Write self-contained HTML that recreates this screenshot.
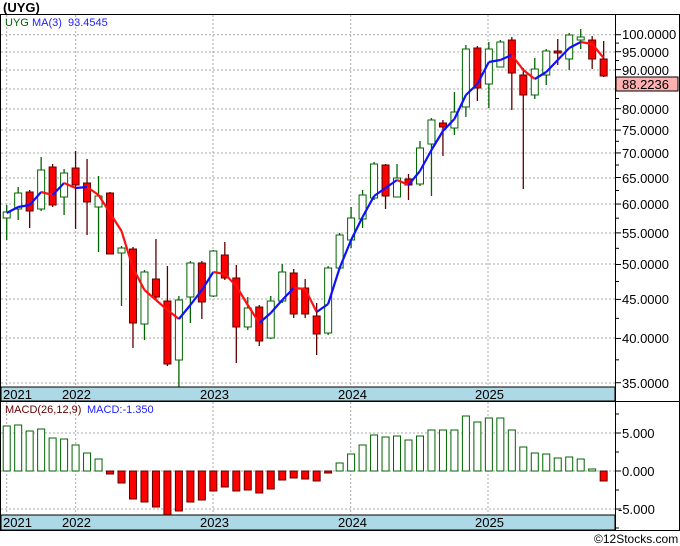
<!DOCTYPE html>
<html><head><meta charset="utf-8"><style>
html,body{margin:0;padding:0;background:#fff;}
svg{display:block;font-family:"Liberation Sans",sans-serif;}
</style></head><body>
<svg id="s" width="680" height="546" viewBox="0 0 680 546" xmlns="http://www.w3.org/2000/svg">
<rect width="680" height="546" fill="#fff"/>
<g id="grid" stroke="#aaa" stroke-dasharray="2,2" stroke-width="1"></g>
<g id="cand"></g>
<g id="ma" fill="none" stroke-width="2.2"></g>
<g id="macd"></g>
<!-- date bands -->
<rect x="1" y="387" width="614" height="14" fill="#add8e6" stroke="#000"/>
<rect x="1" y="515" width="614" height="15" fill="#add8e6" stroke="#000"/>
<g font-size="13" fill="#000">
<text x="3" y="399">2021</text><text x="62" y="399">2022</text><text x="200" y="399">2023</text><text x="338" y="399">2024</text><text x="475" y="399">2025</text>
<text x="3" y="527">2021</text><text x="62" y="527">2022</text><text x="200" y="527">2023</text><text x="338" y="527">2024</text><text x="475" y="527">2025</text>
</g>
<!-- frame -->
<line x1="0" y1="14.5" x2="680" y2="14.5" stroke="#000"/>
<line x1="0" y1="401.5" x2="680" y2="401.5" stroke="#000"/>
<line x1="0" y1="530.5" x2="680" y2="530.5" stroke="#000"/>
<line x1="615.5" y1="14" x2="615.5" y2="531" stroke="#000"/>
<line x1="679.5" y1="14" x2="679.5" y2="531" stroke="#000"/>
<line x1="0.5" y1="14" x2="0.5" y2="531" stroke="#000"/>
<g id="ticks" stroke="#000"></g>
<g font-size="13" fill="#000">
<text x="622" y="39">100.0000</text>
<text x="622" y="57">95.0000</text>
<text x="622" y="75">90.0000</text>
<text x="622" y="114">80.0000</text>
<text x="622" y="135">75.0000</text>
<text x="622" y="158">70.0000</text>
<text x="622" y="183">65.0000</text>
<text x="622" y="209">60.0000</text>
<text x="622" y="238">55.0000</text>
<text x="622" y="269">50.0000</text>
<text x="622" y="304">45.0000</text>
<text x="622" y="343">40.0000</text>
<text x="622" y="388">35.0000</text>
<text x="622" y="438">5.000</text>
<text x="622" y="476">0.000</text>
<text x="618" y="514">-5.000</text>
</g>
<rect x="616" y="77" width="62" height="14" fill="#ffb0b0" stroke="#000"/>
<text x="622" y="89" font-size="13" fill="#000">88.2236</text>
<text x="3" y="12" font-size="13" font-weight="bold">(UYG)</text>
<text x="5" y="26" font-size="11" fill="#006400">UYG</text>
<text x="32" y="26" font-size="11" fill="#2020ff">MA(3)</text>
<text x="68" y="26" font-size="11" fill="#2020ff">93.4545</text>
<text x="5" y="413" font-size="11" fill="#600">MACD(26,12,9)</text>
<text x="87" y="413" font-size="11" fill="#2020ff">MACD:-1.350</text>
<text x="594" y="543" font-size="12" fill="#000">©12Stocks.com</text>
</svg>
<script>
var NS="http://www.w3.org/2000/svg";
function el(p,t,a){var e=document.createElementNS(NS,t);for(var k in a)e.setAttribute(k,a[k]);document.getElementById(p).appendChild(e);return e;}
// grid
[34.7,52,70,89,109,130,153,178,204,233,264,299,338,383].forEach(function(y){el("grid","line",{x1:1,x2:615,y1:y,y2:y});});
[433,471,509].forEach(function(y){el("grid","line",{x1:1,x2:615,y1:y,y2:y});});
[6.7,75.7,213,350.7,488].forEach(function(x){el("grid","line",{x1:x,x2:x,y1:15,y2:387});el("grid","line",{x1:x,x2:x,y1:402,y2:515});});
// ticks
for(var p=35;p<=102;p+=2.5){var y=34.7+331.5*Math.log(100/p);if(y>16&&y<386){var maj=(p%5==0);el("ticks","line",{x1:615,x2:maj?621:619,y1:y,y2:y});}}
for(var v=-7.5;v<=8;v+=2.5){var y=471-7.6*v;if(y>403&&y<529)el("ticks","line",{x1:615,x2:(v%5==0)?621:619,y1:y,y2:y});}
// candles [color, bodyTop, bodyBot, wickTop, wickBot]
var C=[["g",212,218,205,240],["g",193,209,187,220],["r",192,211,190,228],["g",170,209,157,211],["r",167,205,164,207],["g",173,197,169,215],["r",168,185,151,229],["r",183,202,159,235],["g",196,207,176,252],["r",193,254,192,254],["g",248,253,246,306],["r",249,323,247,348],["g",272,324,270,340],["r",279,297,239,300],["r",301,364,266,366],["g",300,360,296,387],["g",263,297,261,323],["r",263,302,261,319],["g",251,296,250,297],["r",255,278,242,280],["r",278,327,265,363],["g",308,327,297,330],["r",307,341,305,346],["g",301,338,296,339],["g",272,301,264,303],["r",273,314,269,318],["r",288,314,279,318],["r",316,334,303,355],["g",268,333,266,335],["g",235,268,233,270],["g",218,240,207,248],["g",195,219,190,228],["g",164,198,162,200],["r",165,196,164,209],["g",178,197,164,197],["r",179,185,174,200],["g",148,184,141,186],["g",120,144,118,196],["r",123,127,120,156],["g",112,128,92,135],["g",49,107,45,117],["r",48,88,46,101],["g",49,84,42,108],["g",42,67,40,67],["r",40,73,37,110],["r",75,95,68,189],["g",69,95,58,99],["g",51,75,49,85],["r",51,53,39,65],["g",35,59,33,70],["g",37,40,29,49],["r",40,59,36,69],["r",59,76,41,77]];
function X(i){return 6.7+11.48*i;}
C.forEach(function(c,i){var x=X(i),g=c[0]=="g";var sc=g?"#006400":"#600000";
el("cand","line",{x1:x,x2:x,y1:c[3],y2:c[4],stroke:sc,"stroke-width":1.3});
el("cand","rect",{x:x-3.5,y:c[1],width:7,height:Math.max(c[2]-c[1],1),fill:g?"#fff":"#f00",stroke:sc,"stroke-width":1});});
var M=[213,207,205,192,195,183,188,187,195,213,231,268,290,300,310,319,305,290,272,274,286,305,323,313,300,288,289,312,304,268,240,217,196,188,180,185,171,150,131,119,95,84,62,60,55,70,79,72,60,48,42,44,58];
for(var i=1;i<M.length;i++){el("ma","line",{x1:X(i-1),y1:M[i-1],x2:X(i),y2:M[i],stroke:M[i]<=M[i-1]?"#1010ff":"#ff1010"});}
var H=[426,425,431,429,438,439,445,453,459,474,483,499,502,507,515,511,502,500,491,487,491,490,493,489,480,478,479,481,473,463,454,445,435,437,436,440,436,430,430,430,416,422,418,418,430,447,453,454,458,457,459,469,481];
H.forEach(function(y,i){var x=X(i),neg=y>471;
el("macd","rect",{x:x-3.5,y:neg?471:y,width:7,height:Math.max(Math.abs(y-471),1),fill:neg?"#f00":"#fff",stroke:neg?"#600000":"#006400","stroke-width":1});});
</script>
</body></html>
